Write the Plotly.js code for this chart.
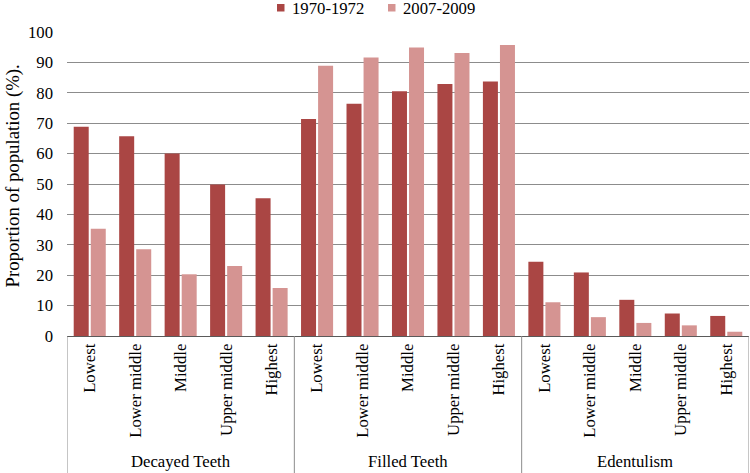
<!DOCTYPE html>
<html>
<head>
<meta charset="utf-8">
<script src="https://cdn.plot.ly/plotly-3.0.1.min.js"></script>
<style>html,body{margin:0;padding:0;background:#fff}#chart{width:750px;height:473px}</style>
</head>
<body>
<div id="chart"></div>
<script>
const groups = ["Decayed Teeth", "Filled Teeth", "Edentulism"];
const levels = ["Lowest", "Lower middle", "Middle", "Upper middle", "Highest"];
const seriesNames = ["1970-1972", "2007-2009"];
const seriesColors = ["#AA4644", "#D59492"];
const values1970 = [68.8, 65.7, 60.0, 49.8, 45.3, 71.4, 76.4, 80.5, 82.9, 83.7, 24.4, 20.9, 11.9, 7.4, 6.6];
const values2007 = [35.3, 28.5, 20.3, 23.0, 15.8, 88.9, 91.6, 94.9, 93.1, 95.7, 11.1, 6.2, 4.3, 3.5, 1.4];
const yTicks = [0, 10, 20, 30, 40, 50, 60, 70, 80, 90, 100];
const yTitle = "Proportion of population (%).";

const FONT = "Liberation Serif";
const FS = 16.7;
const xIdx = [], xLabels = [];
groups.forEach((g, gi) => levels.forEach((l, li) => { xIdx.push(gi * levels.length + li); xLabels.push(l); }));

const traces = [
  {type: "bar", name: seriesNames[0], x: xIdx, y: values1970, marker: {color: seriesColors[0]}, showlegend: false},
  {type: "bar", name: seriesNames[1], x: xIdx, y: values2007, marker: {color: seriesColors[1]}, showlegend: false}
];

const ML = 67, MT = 32, MB = 137, W = 750, H = 473, MR = 1;
const plotH = H - MT - MB, plotW = W - ML - MR;
const px2x = p => (p - ML) / plotW;
const py2y = p => (H - MB - p) / plotH;

const shapes = [], annotations = [];
for (let gi = 0; gi <= groups.length; gi++) {
  const xb = gi * levels.length - 0.5;
  shapes.push({type: "line", xref: "x", yref: "paper", x0: xb, x1: xb, y0: 0, y1: py2y(H), line: {color: "#8c8c8c", width: 1}});
}
groups.forEach((g, gi) => {
  annotations.push({text: g, xref: "x", yref: "paper", x: gi * levels.length + (levels.length - 1) / 2, y: py2y(461), yanchor: "middle", xanchor: "center", showarrow: false, font: {family: FONT, size: FS, color: "#000"}});
});
// legend (swatch + label)
const legSq = [277, 388], legTx = [291, 402];
seriesNames.forEach((n, i) => {
  shapes.push({type: "rect", xref: "paper", yref: "paper", x0: px2x(legSq[i]), x1: px2x(legSq[i] + 7.5), y0: py2y(4), y1: py2y(11.5), line: {width: 0}, fillcolor: seriesColors[i]});
  annotations.push({text: n, xref: "paper", yref: "paper", x: px2x(legTx[i]), y: py2y(8.5), xanchor: "left", yanchor: "middle", showarrow: false, borderpad: 0, font: {family: FONT, size: FS, color: "#000"}});
});
annotations.push({text: yTitle, xref: "paper", yref: "paper", x: px2x(12.5), y: py2y(176), xanchor: "center", yanchor: "middle", textangle: -90, showarrow: false, font: {family: FONT, size: 18.8, color: "#000"}});

const layout = {
  width: W, height: H,
  margin: {l: ML, r: MR, t: MT, b: MB},
  paper_bgcolor: "#fff", plot_bgcolor: "#fff",
  font: {family: FONT, size: FS, color: "#000"},
  barmode: "group", bargap: 0.25, bargroupgap: 0.12,
  showlegend: false,
  xaxis: {range: [-0.5, 14.5], tickmode: "array", tickvals: xIdx, ticktext: xLabels, tickangle: -90, ticks: "", showgrid: false, zeroline: false, showline: true, linecolor: "#5a5a5a", linewidth: 1, automargin: false, tickfont: {family: FONT, size: FS, color: "#000"}},
  yaxis: {range: [0, 100], tickmode: "array", tickvals: yTicks, showgrid: true, gridcolor: "#8c8c8c", gridwidth: 1, zeroline: false, showline: false, ticks: "", ticklabelstandoff: 13, automargin: false, tickfont: {family: FONT, size: FS, color: "#000"}},
  shapes: shapes,
  annotations: annotations
};
Plotly.newPlot("chart", traces, layout, {displayModeBar: false, staticPlot: true});
</script>
</body>
</html>
